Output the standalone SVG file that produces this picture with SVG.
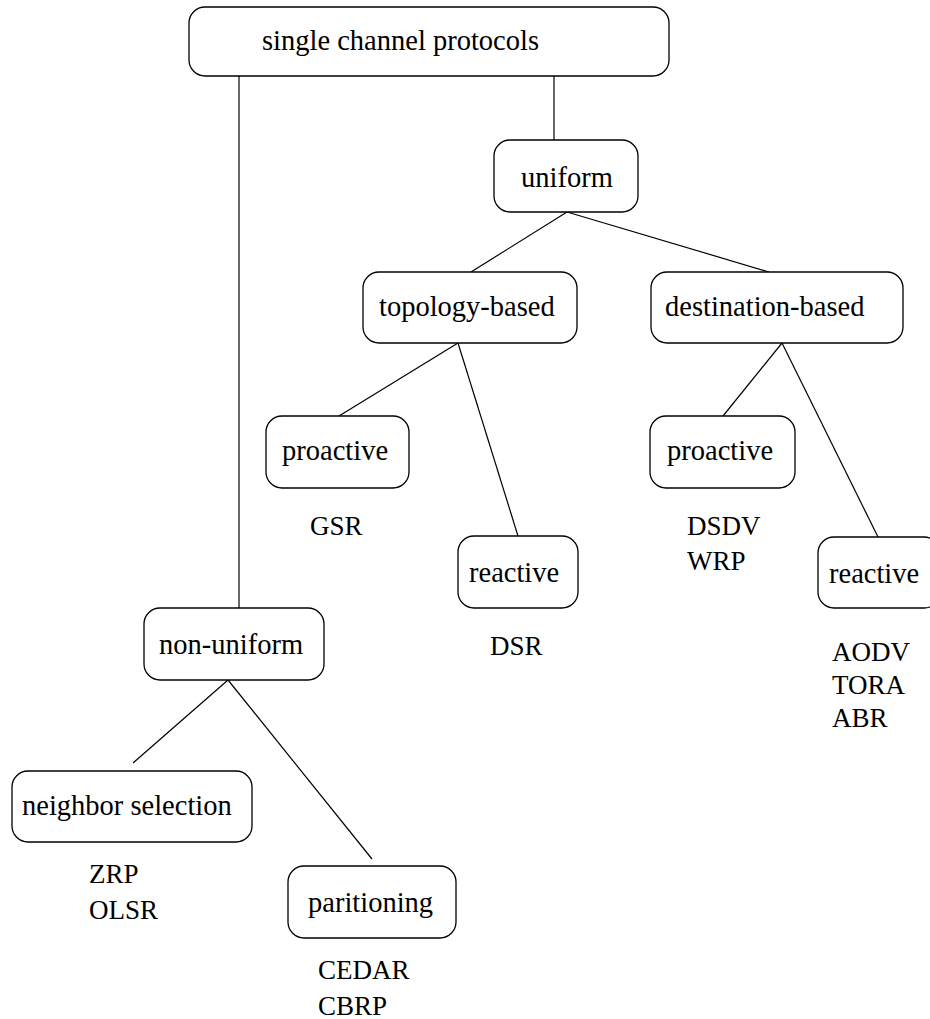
<svg xmlns="http://www.w3.org/2000/svg" width="930" height="1019" viewBox="0 0 930 1019">
<style>
.box{fill:#fff;stroke:#000;stroke-width:1.3}
.t{font-family:"Liberation Serif","Times New Roman",serif;font-size:28.5px;fill:#000}
.l{font-family:"Liberation Serif","Times New Roman",serif;font-size:27px;fill:#000}
.c line{stroke:#000;stroke-width:1.2}
</style>
<rect width="930" height="1019" fill="#fff"/>
<g class="c" id="connectors">
<line x1="239" y1="76" x2="239" y2="608"/>
<line x1="554" y1="76" x2="554" y2="140"/>
<line x1="567" y1="212" x2="471" y2="272"/>
<line x1="567" y1="212" x2="769" y2="272"/>
<line x1="458" y1="343" x2="339" y2="416"/>
<line x1="458" y1="343" x2="518" y2="536"/>
<line x1="782" y1="343" x2="723" y2="416"/>
<line x1="782" y1="343" x2="878" y2="537"/>
<line x1="228" y1="680" x2="133" y2="763"/>
<line x1="228" y1="680" x2="372" y2="859"/>
</g>
<g id="n-single"><rect class="box" x="189" y="7" width="480" height="69" rx="16"/><text class="t" x="262" y="50">single channel protocols</text></g>
<g id="n-uniform"><rect class="box" x="494" y="140" width="144" height="72" rx="16"/><text class="t" x="521" y="187">uniform</text></g>
<g id="n-topology"><rect class="box" x="363" y="272" width="214" height="71" rx="16"/><text class="t" x="379" y="316">topology-based</text></g>
<g id="n-destination"><rect class="box" x="651" y="272" width="252" height="71" rx="16"/><text class="t" x="665" y="316">destination-based</text></g>
<g id="n-proactive1"><rect class="box" x="266" y="416" width="143" height="72" rx="16"/><text class="t" x="282" y="460">proactive</text></g>
<g id="n-reactive1"><rect class="box" x="458" y="536" width="120" height="72" rx="16"/><text class="t" x="469" y="582">reactive</text></g>
<g id="n-proactive2"><rect class="box" x="650" y="416" width="145" height="72" rx="16"/><text class="t" x="667" y="460">proactive</text></g>
<g id="n-reactive2"><rect class="box" x="818" y="537" width="122" height="71" rx="16"/><text class="t" x="829" y="583">reactive</text></g>
<g id="n-nonuniform"><rect class="box" x="144" y="608" width="180" height="72" rx="16"/><text class="t" x="159" y="654">non-uniform</text></g>
<g id="n-neighbor"><rect class="box" x="12" y="771" width="240" height="71" rx="16"/><text class="t" x="22" y="815">neighbor selection</text></g>
<g id="n-partitioning"><rect class="box" x="288" y="866" width="168" height="72" rx="16"/><text class="t" x="308" y="912">paritioning</text></g>
<g id="labels">
<text class="l" x="310" y="535">GSR</text>
<text class="l" x="490" y="655">DSR</text>
<text class="l" x="687" y="535">DSDV</text>
<text class="l" x="687" y="570">WRP</text>
<text class="l" x="832" y="661">AODV</text>
<text class="l" x="832" y="694">TORA</text>
<text class="l" x="832" y="727">ABR</text>
<text class="l" x="89" y="883">ZRP</text>
<text class="l" x="89" y="919">OLSR</text>
<text class="l" x="318" y="979">CEDAR</text>
<text class="l" x="318" y="1015">CBRP</text>
</g>
</svg>
